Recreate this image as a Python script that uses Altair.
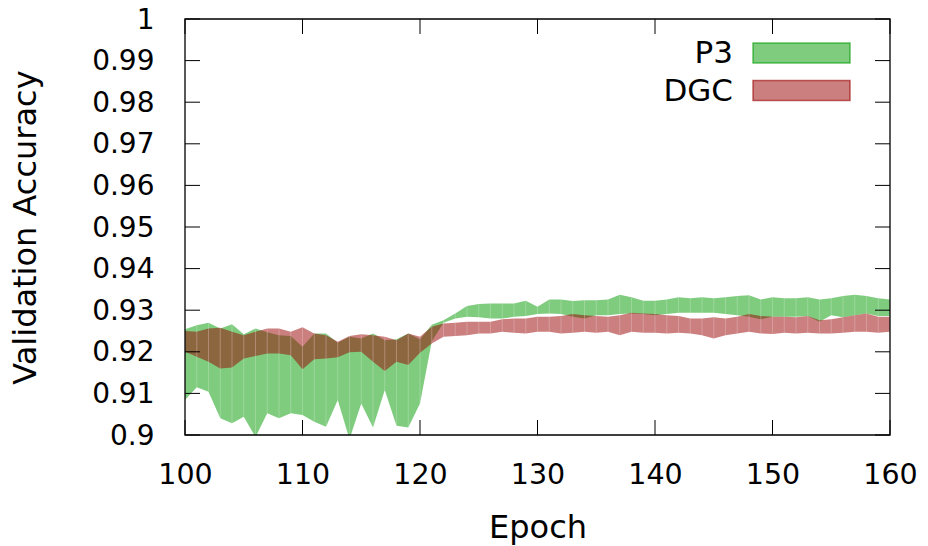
import altair as alt
import pandas as pd
import numpy as np

epochs = list(range(100, 161))

p3_hi = [0.9254, 0.9264, 0.9270, 0.9256, 0.9266, 0.9242, 0.9256, 0.9247, 0.9240, 0.9238,
         0.9212, 0.9244, 0.9244, 0.9222, 0.9236, 0.9232, 0.9244, 0.9228, 0.9230, 0.9244,
         0.9230, 0.9265, 0.9276, 0.9292, 0.9310, 0.9315, 0.9316, 0.9316, 0.9316, 0.9323,
         0.9308, 0.9326, 0.9326, 0.9322, 0.9324, 0.9324, 0.9326, 0.9337, 0.9331, 0.9323,
         0.9323, 0.9326, 0.9331, 0.9329, 0.9331, 0.9329, 0.9331, 0.9334, 0.9336, 0.9326,
         0.9331, 0.9329, 0.9329, 0.9331, 0.9326, 0.9329, 0.9334, 0.9337, 0.9334, 0.9329,
         0.9326]
p3_lo = [0.9084, 0.9115, 0.9104, 0.9040, 0.9028, 0.9044, 0.8995, 0.9052, 0.9040, 0.9052,
         0.9048, 0.9032, 0.9020, 0.9084, 0.8990, 0.9076, 0.9018, 0.9108, 0.9022, 0.9018,
         0.9076, 0.9225, 0.9270, 0.9280, 0.9284, 0.9283, 0.9280, 0.9280, 0.9284, 0.9286,
         0.9291, 0.9292, 0.9291, 0.9284, 0.9280, 0.9288, 0.9288, 0.9291, 0.9292, 0.9291,
         0.9288, 0.9291, 0.9294, 0.9294, 0.9294, 0.9294, 0.9291, 0.9288, 0.9284, 0.9278,
         0.9284, 0.9284, 0.9284, 0.9286, 0.9272, 0.9288, 0.9283, 0.9288, 0.9292, 0.9286,
         0.9286]
dgc_hi = [0.9250, 0.9248, 0.9256, 0.9258, 0.9248, 0.9240, 0.9248, 0.9256, 0.9256, 0.9248,
          0.9259, 0.9244, 0.9240, 0.9224, 0.9238, 0.9242, 0.9240, 0.9236, 0.9228, 0.9244,
          0.9236, 0.9260, 0.9268, 0.9270, 0.9272, 0.9272, 0.9272, 0.9278, 0.9280, 0.9280,
          0.9284, 0.9284, 0.9286, 0.9291, 0.9288, 0.9286, 0.9284, 0.9288, 0.9294, 0.9292,
          0.9291, 0.9288, 0.9286, 0.9280, 0.9280, 0.9283, 0.9280, 0.9284, 0.9291, 0.9286,
          0.9284, 0.9284, 0.9283, 0.9286, 0.9276, 0.9278, 0.9283, 0.9288, 0.9292, 0.9284,
          0.9284]
dgc_lo = [0.9200, 0.9188, 0.9176, 0.9160, 0.9162, 0.9184, 0.9190, 0.9196, 0.9196, 0.9192,
          0.9158, 0.9182, 0.9184, 0.9187, 0.9199, 0.9200, 0.9176, 0.9154, 0.9176, 0.9168,
          0.9198, 0.9220, 0.9236, 0.9238, 0.9240, 0.9244, 0.9244, 0.9248, 0.9246, 0.9244,
          0.9248, 0.9248, 0.9244, 0.9246, 0.9248, 0.9246, 0.9248, 0.9240, 0.9248, 0.9246,
          0.9246, 0.9244, 0.9246, 0.9244, 0.9240, 0.9232, 0.9240, 0.9244, 0.9248, 0.9244,
          0.9243, 0.9246, 0.9244, 0.9246, 0.9244, 0.9244, 0.9246, 0.9248, 0.9248, 0.9246,
          0.9248]

series_names = ["P3", "DGC"]
x_ticks = [100, 110, 120, 130, 140, 150, 160]
y_ticks = [round(0.9 + 0.01 * i, 2) for i in range(11)]

FONT = "DejaVu Sans"
W, H = 705, 416
GREEN = "#009a00"
RED = "#990000"

xscale = alt.Scale(domain=[100, 160], nice=False, zero=False)
yscale = alt.Scale(domain=[0.9, 1.0], nice=False, zero=False)

p3 = pd.DataFrame({"epoch": epochs, "lo": p3_lo, "hi": p3_hi})
dgc = pd.DataFrame({"epoch": epochs, "lo": dgc_lo, "hi": dgc_hi})

xaxis = alt.Axis(values=x_ticks, ticks=False, domain=False, grid=False,
                 labelFlush=False, labelOverlap=False,
                 labelFont=FONT, labelFontSize=28.5, labelColor="black", labelPadding=25,
                 title="Epoch", titleFont=FONT, titleFontSize=32, titleFontWeight="normal",
                 titleColor="black", titleX=W / 2, titleY=92, titleBaseline="middle",
                 titleAlign="center")
yaxis = alt.Axis(values=y_ticks, format=".2~f", ticks=False, domain=False, grid=False,
                 labelFlush=False, labelOverlap=False, labelOffset=1,
                 labelFont=FONT, labelFontSize=28, labelColor="black", labelPadding=31,
                 title="Validation Accuracy", titleFont=FONT, titleFontSize=32,
                 titleFontWeight="normal", titleColor="black", titleX=-160, titleY=H / 2,
                 titleAngle=-90, titleBaseline="middle", titleAlign="center")


def X(field):
    return alt.X(field, scale=xscale, axis=xaxis)


def Y(field):
    return alt.Y(field, scale=yscale, axis=yaxis)


area_p3 = alt.Chart(p3).mark_area(clip=True, color=GREEN, opacity=0.5).encode(
    x=X("epoch:Q"), y=Y("lo:Q"), y2="hi:Q")
seam_p3 = alt.Chart(p3).mark_rule(clip=True, color="white", opacity=0.22, strokeWidth=1).encode(
    x=X("epoch:Q"), y=Y("lo:Q"), y2="hi:Q")
area_dgc = alt.Chart(dgc).mark_area(clip=True, color=RED, opacity=0.5).encode(
    x=X("epoch:Q"), y=Y("lo:Q"), y2="hi:Q")
seam_dgc = alt.Chart(dgc).mark_rule(clip=True, color="white", opacity=0.22, strokeWidth=1).encode(
    x=X("epoch:Q"), y=Y("lo:Q"), y2="hi:Q")

yt = pd.DataFrame({"v": y_ticks})
xt = pd.DataFrame({"t": x_ticks})
TL = 15
ytick_l = alt.Chart(yt).mark_rule(color="black", strokeWidth=1).encode(
    y=Y("v:Q"), x=alt.value(0), x2=alt.value(TL))
ytick_r = alt.Chart(yt).mark_rule(color="black", strokeWidth=1).encode(
    y=Y("v:Q"), x=alt.value(W - TL), x2=alt.value(W))
xtick_b = alt.Chart(xt).mark_rule(color="black", strokeWidth=1).encode(
    x=X("t:Q"), y=alt.value(H), y2=alt.value(H - TL))
xtick_t = alt.Chart(xt).mark_rule(color="black", strokeWidth=1).encode(
    x=X("t:Q"), y=alt.value(0), y2=alt.value(TL))

frame = alt.Chart(pd.DataFrame({"f": [0]})).mark_rect(
    fill="transparent", stroke="black", strokeWidth=1.3).encode(
    x=alt.value(0), x2=alt.value(W), y=alt.value(0), y2=alt.value(H))

legend_layers = []
for i, (name, col) in enumerate(zip(series_names, [GREEN, RED])):
    ld = pd.DataFrame({"name": [name]})
    yc = 34 + 37.5 * i
    box = alt.Chart(ld).mark_rect(fill=col, fillOpacity=0.5, stroke=col, strokeOpacity=0.6,
                                  strokeWidth=1.5).encode(
        x=alt.value(568), x2=alt.value(665), y=alt.value(yc - 10), y2=alt.value(yc + 10))
    txt = alt.Chart(ld).mark_text(font=FONT, fontSize=31, align="right", baseline="middle",
                                  color="black").encode(
        text="name:N", x=alt.value(548), y=alt.value(yc + 1))
    legend_layers += [box, txt]

chart = alt.layer(
    area_p3, seam_p3, area_dgc, seam_dgc, ytick_l, ytick_r, xtick_b, xtick_t, frame,
    *legend_layers
).properties(
    width=W, height=H,
    autosize=alt.AutoSizeParams(type="none"),
    padding={"left": 185, "top": 19, "right": 38, "bottom": 111},
).configure(background="white").configure_view(stroke=None)

chart.save("out.html", embed_options={"renderer": "svg", "actions": False})
